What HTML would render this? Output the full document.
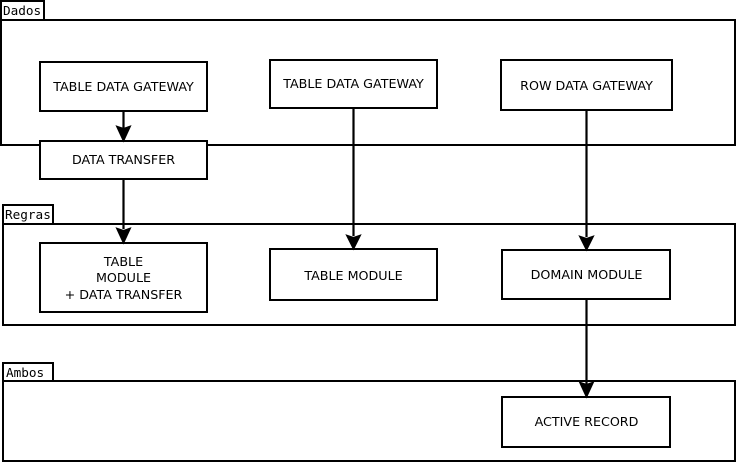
<!DOCTYPE html>
<html><head><style>body{margin:0;background:#fff}svg{display:block}text{font-family:"DejaVu Sans","Liberation Sans",sans-serif;font-size:12.7px;fill:#000}</style></head>
<body>
<svg width="737" height="464" viewBox="0 0 737 464" xmlns="http://www.w3.org/2000/svg">
<g fill="#fff" stroke="#000" stroke-width="2">
<rect x="1" y="20" width="734" height="125"/>
<rect x="1" y="1" width="43" height="19"/>
<rect x="3" y="224" width="732" height="101"/>
<rect x="3" y="205" width="50" height="19"/>
<rect x="3" y="381" width="732" height="80"/>
<rect x="3" y="363" width="50" height="18"/>
<rect x="40" y="62" width="167" height="49"/>
<rect x="40" y="141" width="167" height="38"/>
<rect x="270" y="60" width="167" height="48"/>
<rect x="501" y="60" width="171" height="50"/>
<rect x="40" y="243" width="167" height="69"/>
<rect x="270" y="249" width="167" height="51"/>
<rect x="502" y="250" width="168" height="49"/>
<rect x="502" y="397" width="168" height="50"/>
</g>
<g stroke="#000" stroke-width="2.2" fill="#000">
<line x1="123.5" y1="111" x2="123.5" y2="128"/><path d="M117.5,127 L123.5,129 L129.5,127 L123.5,140 Z"/>
<line x1="123.5" y1="179" x2="123.5" y2="229"/><path d="M117.5,229 L123.5,231 L129.5,229 L123.5,242 Z"/>
<line x1="353.5" y1="108" x2="353.5" y2="236"/><path d="M347.5,236 L353.5,238 L359.5,236 L353.5,248 Z"/>
<line x1="586.5" y1="110" x2="586.5" y2="237"/><path d="M580.5,237 L586.5,239 L592.5,237 L586.5,249 Z"/>
<line x1="586.5" y1="299" x2="586.5" y2="384"/><path d="M580.5,383 L586.5,385 L592.5,383 L586.5,396 Z"/>
</g>
<g stroke="none">
<text x="3" y="15" style="font-family:'DejaVu Sans Mono','Liberation Mono',monospace;font-size:12.7px">Dados</text>
<text x="5" y="219" style="font-family:'DejaVu Sans Mono','Liberation Mono',monospace;font-size:12.7px">Regras</text>
<text x="6" y="377" style="font-family:'DejaVu Sans Mono','Liberation Mono',monospace;font-size:12.7px">Ambos</text>
<g text-anchor="middle">
<text x="123.5" y="91">TABLE DATA GATEWAY</text>
<text x="123.5" y="164">DATA TRANSFER</text>
<text x="353.5" y="88">TABLE DATA GATEWAY</text>
<text x="586.5" y="90">ROW DATA GATEWAY</text>
<text x="123.5" y="266">TABLE</text>
<text x="123.5" y="282">MODULE</text>
<text x="123.5" y="299">+ DATA TRANSFER</text>
<text x="353.5" y="280">TABLE MODULE</text>
<text x="586.5" y="279">DOMAIN MODULE</text>
<text x="586.5" y="426">ACTIVE RECORD</text>
</g></g>
</svg>
</body></html>
